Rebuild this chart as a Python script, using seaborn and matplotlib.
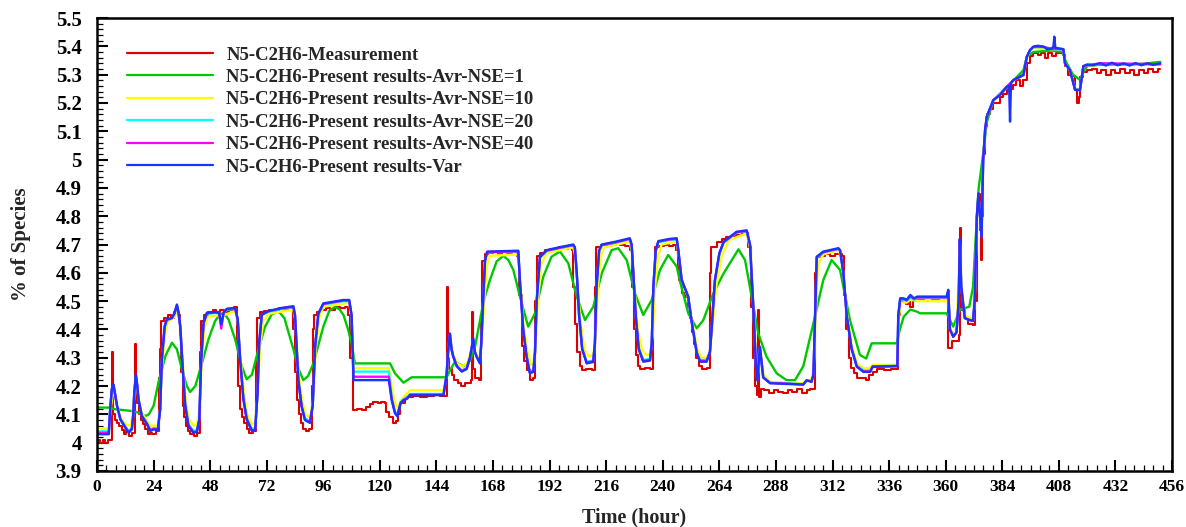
import matplotlib
matplotlib.use("Agg")
import matplotlib.pyplot as plt
import seaborn as sns
import pandas as pd
from matplotlib.ticker import MultipleLocator, FuncFormatter

# ---------------- data (time [h], % of species) ----------------
labels = [
    "N5-C2H6-Measurement",
    "N5-C2H6-Present results-Avr-NSE=1",
    "N5-C2H6-Present results-Avr-NSE=10",
    "N5-C2H6-Present results-Avr-NSE=20",
    "N5-C2H6-Present results-Avr-NSE=40",
    "N5-C2H6-Present results-Var",
]
colors = ["#dc0000", "#00c800", "#ffff00", "#00ffff", "#ff00ff", "#1a33ff"]

measurement = [
    (0, 4.01), (1.2, 4.0), (2.4, 4.01), (3.6, 4.0), (4.8, 4.01), (6.3, 4.02), (6.5, 4.32), (6.8, 4.10),
    (7.5, 4.08), (8.5, 4.07), (9.5, 4.06), (10.5, 4.045), (11.5, 4.03), (12.5, 4.04), (13.5, 4.025),
    (15.0, 4.035), (16.0, 4.04), (16.1, 4.35), (16.4, 4.18), (17.0, 4.14), (17.8, 4.10), (18.5, 4.08),
    (19.5, 4.065), (20.5, 4.05), (21.5, 4.03), (22.5, 4.035), (23.5, 4.03), (25.0, 4.04), (26.1, 4.23),
    (26.6, 4.33), (27.3, 4.43), (28.5, 4.44), (30.0, 4.45), (31.5, 4.44), (32.5, 4.46), (33.5, 4.47),
    (34.3, 4.45), (35.0, 4.38), (35.6, 4.25), (36.3, 4.13), (37.0, 4.09), (37.8, 4.06), (38.7, 4.04),
    (39.5, 4.03), (41.0, 4.025), (42.5, 4.035), (43.8, 4.32), (44.3, 4.43), (45.5, 4.45), (47.0, 4.46),
    (49.0, 4.47), (50.5, 4.46), (52.0, 4.47), (54.0, 4.46), (56.0, 4.47), (58.0, 4.48), (59.3, 4.35),
    (59.8, 4.20), (60.5, 4.12), (61.5, 4.09), (62.5, 4.07), (63.5, 4.05), (64.5, 4.035), (66.0, 4.04),
    (67.4, 4.30), (67.8, 4.44), (69.0, 4.46), (71.0, 4.465), (73.0, 4.47), (75.0, 4.465), (77.0, 4.475),
    (79.0, 4.47), (81.0, 4.48), (82.5, 4.47), (83.3, 4.40), (84.0, 4.25), (84.8, 4.15), (85.5, 4.10),
    (86.5, 4.07), (87.5, 4.05), (88.5, 4.04), (90.0, 4.05), (91.0, 4.20), (91.5, 4.40), (92.0, 4.45),
    (93.5, 4.46), (95.0, 4.47), (97.0, 4.475), (99.0, 4.47), (101.0, 4.48), (103.0, 4.475), (105.0, 4.48),
    (106.5, 4.45), (107.5, 4.30), (108.7, 4.115), (110.5, 4.12), (112.5, 4.115), (114.0, 4.125),
    (115.8, 4.135), (117.2, 4.145), (119.0, 4.14), (120.5, 4.145), (122.1, 4.14), (122.8, 4.11),
    (123.8, 4.09), (125.6, 4.07), (127.0, 4.075), (127.8, 4.10), (128.5, 4.14), (130.7, 4.16),
    (134.0, 4.165), (137.0, 4.16), (140.0, 4.165), (143.0, 4.17), (145.5, 4.165), (148.4, 4.17),
    (148.6, 4.55), (148.9, 4.30), (149.5, 4.26), (150.5, 4.24), (151.5, 4.22), (153.0, 4.21),
    (154.5, 4.20), (156.0, 4.21), (158.7, 4.22), (158.9, 4.46), (159.3, 4.26), (160.5, 4.23),
    (162.0, 4.22), (163.0, 4.45), (163.4, 4.64), (164.5, 4.665), (166.0, 4.67), (168.0, 4.675),
    (170.0, 4.665), (172.0, 4.675), (174.0, 4.67), (176.0, 4.675), (178.0, 4.66), (179.1, 4.52),
    (180.1, 4.34), (181.0, 4.29), (182.2, 4.257), (183.6, 4.22), (185.1, 4.23), (185.8, 4.50),
    (186.5, 4.66), (188.0, 4.67), (190.0, 4.68), (192.0, 4.685), (194.0, 4.68), (196.0, 4.69),
    (198.0, 4.685), (200.0, 4.695), (201.3, 4.68), (202.0, 4.55), (202.7, 4.42), (203.8, 4.32),
    (204.9, 4.27), (205.6, 4.257), (207.5, 4.26), (209.8, 4.255), (211.2, 4.55), (211.8, 4.69),
    (214.0, 4.70), (216.0, 4.695), (218.0, 4.70), (220.0, 4.705), (222.0, 4.70), (224.0, 4.695),
    (226.1, 4.68), (227.0, 4.55), (227.8, 4.40), (228.7, 4.31), (229.6, 4.27), (230.3, 4.262),
    (232.5, 4.265), (234.6, 4.26), (236.0, 4.55), (236.7, 4.69), (238.5, 4.695), (240.5, 4.70),
    (242.5, 4.695), (244.5, 4.70), (245.5, 4.68), (246.3, 4.62), (247.0, 4.575), (248.0, 4.53),
    (249.5, 4.516), (250.8, 4.48), (251.6, 4.44), (252.5, 4.39), (253.3, 4.35), (254.0, 4.30),
    (255.3, 4.27), (256.5, 4.262), (258.6, 4.265), (260.0, 4.60), (260.4, 4.69), (262.8, 4.71),
    (265.0, 4.72), (267.0, 4.725), (269.0, 4.73), (271.0, 4.734), (273.5, 4.74), (276.3, 4.69),
    (277.3, 4.48), (278.3, 4.30), (279.2, 4.20), (280.1, 4.17), (280.5, 4.47), (280.8, 4.16),
    (281.5, 4.19), (283.0, 4.185), (285.0, 4.175), (287.0, 4.185), (289.0, 4.18), (291.0, 4.175),
    (293.0, 4.185), (295.0, 4.18), (297.0, 4.19), (299.0, 4.175), (301.0, 4.185), (302.5, 4.19),
    (304.2, 4.19), (304.6, 4.60), (305.3, 4.655), (307.0, 4.66), (309.0, 4.665), (311.0, 4.66),
    (313.0, 4.665), (315.9, 4.66), (316.8, 4.52), (317.8, 4.40), (319.0, 4.30), (320.0, 4.265),
    (321.0, 4.245), (322.5, 4.228), (324.5, 4.23), (326.0, 4.22), (327.5, 4.24), (329.0, 4.25),
    (331.0, 4.26), (334.0, 4.255), (337.0, 4.26), (339.5, 4.26), (339.8, 4.45), (340.5, 4.50),
    (342.0, 4.505), (343.0, 4.49), (344.0, 4.51), (345.0, 4.48), (346.0, 4.50), (348.0, 4.505),
    (351.0, 4.50), (354.0, 4.505), (357.0, 4.50), (360.4, 4.505), (360.8, 4.333), (362.5, 4.36),
    (363.9, 4.36), (365.5, 4.38), (366.0, 4.76), (366.4, 4.55), (367.0, 4.47), (368.1, 4.44),
    (369.5, 4.42), (371.6, 4.415), (372.5, 4.50), (373.2, 4.82), (373.9, 4.88), (374.4, 4.75),
    (374.9, 4.645), (375.3, 4.80), (375.9, 5.02), (376.7, 5.12), (377.4, 5.16), (378.8, 5.18),
    (380.2, 5.20), (383.0, 5.22), (384.5, 5.23), (386.0, 5.25), (388.7, 5.265), (390.0, 5.28),
    (391.5, 5.26), (393.0, 5.28), (394.4, 5.34), (395.8, 5.365), (397.2, 5.375), (399.0, 5.37),
    (400.5, 5.375), (402.0, 5.36), (403.5, 5.375), (405.0, 5.365), (407.0, 5.375), (409.9, 5.37),
    (410.6, 5.33), (412.0, 5.30), (413.5, 5.295), (414.9, 5.25), (415.6, 5.20), (416.5, 5.22),
    (417.0, 5.29), (418.4, 5.31), (420.0, 5.315), (422.0, 5.32), (424.0, 5.305), (426.0, 5.315),
    (428.0, 5.30), (430.0, 5.315), (432.0, 5.305), (434.0, 5.32), (436.0, 5.305), (438.0, 5.315),
    (440.0, 5.30), (442.0, 5.315), (444.0, 5.305), (446.0, 5.32), (448.0, 5.31), (450.0, 5.32),
    (451.0, 5.32),
]

nse1 = [
    (0, 4.124), (5, 4.124), (7.8, 4.118), (14.8, 4.112), (17.6, 4.106), (20.5, 4.094), (22.0, 4.10),
    (24.0, 4.13), (26.0, 4.21), (29.0, 4.306), (31.8, 4.353), (33.9, 4.33), (36.0, 4.26), (38.1, 4.20),
    (39.5, 4.179), (41.7, 4.20), (44.5, 4.28), (47.3, 4.365), (50.1, 4.43), (52.2, 4.453), (53.7, 4.459),
    (55.8, 4.435), (58.6, 4.365), (61.4, 4.27), (63.5, 4.224), (65.7, 4.24), (68.5, 4.33), (71.3, 4.41),
    (74.1, 4.453), (76.9, 4.465), (79.5, 4.44), (83.3, 4.33), (85.5, 4.26), (87.5, 4.221), (89.5, 4.235),
    (91.8, 4.28), (96.0, 4.41), (98.5, 4.465), (101.0, 4.48), (103.0, 4.47), (104.6, 4.45), (106.5, 4.40),
    (108.0, 4.351), (109.4, 4.28), (124.3, 4.28), (126.4, 4.245), (130.0, 4.212), (133.5, 4.231),
    (148.3, 4.231), (150.0, 4.26), (151.9, 4.286), (155.4, 4.27), (158.3, 4.29), (160.4, 4.34),
    (162.5, 4.433), (164.0, 4.50), (166.7, 4.575), (169.5, 4.64), (172.3, 4.66), (174.5, 4.645),
    (176.6, 4.61), (179.4, 4.516), (182.9, 4.41), (185.8, 4.457), (189.3, 4.586), (192.8, 4.657),
    (196.4, 4.675), (199.9, 4.634), (203.5, 4.516), (207.0, 4.433), (210.5, 4.48), (214.1, 4.598),
    (218.3, 4.68), (221.1, 4.687), (224.7, 4.645), (228.2, 4.527), (231.7, 4.451), (235.3, 4.504),
    (238.8, 4.61), (242.3, 4.663), (245.9, 4.622), (247.3, 4.57), (250.8, 4.457), (254.4, 4.404),
    (257.2, 4.433), (261.4, 4.527), (265.8, 4.598), (269.3, 4.645), (272.1, 4.683), (274.9, 4.645),
    (277.7, 4.516), (280.5, 4.386), (284.0, 4.304), (288.3, 4.245), (292.5, 4.221), (296.1, 4.221),
    (299.6, 4.27), (303.9, 4.422), (308.1, 4.575), (311.6, 4.645), (315.2, 4.61), (319.4, 4.433),
    (323.6, 4.31), (326.3, 4.297), (328.6, 4.351), (339.2, 4.351), (340.5, 4.398), (342.2, 4.445),
    (345.0, 4.47), (347.8, 4.463), (349.1, 4.457), (360.4, 4.457), (363.2, 4.41), (366.0, 4.47),
    (370.0, 4.48), (371.6, 4.55), (372.7, 4.72), (374.0, 4.90), (375.9, 5.02), (377.4, 5.13),
    (380.2, 5.21), (385.9, 5.257), (390.0, 5.29), (393.0, 5.316), (394.4, 5.363), (397.2, 5.38),
    (405.0, 5.385), (409.9, 5.38), (410.6, 5.352), (414.0, 5.30), (417.0, 5.281), (418.4, 5.31),
    (420.0, 5.33), (425.5, 5.335), (440.0, 5.335), (451.0, 5.345),
]

nse10 = [
    (0, 4.05), (5.0, 4.05), (5.8, 4.12), (7.0, 4.19), (8.5, 4.13), (10.0, 4.09), (12.0, 4.065), (14.5, 4.06),
    (15.8, 4.16), (16.5, 4.22), (17.6, 4.16), (19.0, 4.105), (22.6, 4.06), (25.8, 4.06), (26.8, 4.12),
    (27.8, 4.29), (29.0, 4.39), (30.0, 4.425), (32.9, 4.445), (33.9, 4.47), (35.0, 4.43), (36.3, 4.30),
    (37.4, 4.17), (38.8, 4.085), (40.9, 4.06), (42.4, 4.065), (43.4, 4.11), (44.5, 4.29), (45.5, 4.40),
    (47.0, 4.445), (51.8, 4.45), (52.7, 4.42), (53.7, 4.45), (58.6, 4.465), (59.7, 4.43), (60.9, 4.30),
    (62.3, 4.18), (63.7, 4.10), (65.7, 4.065), (67.1, 4.07), (68.3, 4.18), (69.2, 4.34), (70.5, 4.43),
    (72.7, 4.455), (83.3, 4.47), (84.2, 4.43), (85.6, 4.24), (87.0, 4.15), (88.5, 4.10), (90.3, 4.09),
    (91.7, 4.15), (92.8, 4.33), (94.3, 4.44), (96.0, 4.48), (107.0, 4.495), (108.0, 4.44), (108.8, 4.263),
    (123.8, 4.263), (125.0, 4.20), (126.4, 4.14), (127.6, 4.12), (129.0, 4.15), (131.0, 4.17),
    (132.8, 4.185), (147.0, 4.185), (148.3, 4.24), (149.7, 4.37), (151.1, 4.31), (153.0, 4.28),
    (155.0, 4.27), (157.0, 4.28), (159.6, 4.35), (161.0, 4.31), (162.4, 4.30), (163.2, 4.36),
    (164.3, 4.50), (165.3, 4.62), (166.5, 4.66), (178.7, 4.665), (179.6, 4.56), (181.0, 4.41),
    (182.5, 4.33), (184.0, 4.275), (185.1, 4.28), (186.0, 4.34), (187.0, 4.50), (188.5, 4.63),
    (190.7, 4.67), (202.0, 4.69), (202.9, 4.66), (203.9, 4.55), (205.2, 4.42), (206.8, 4.33),
    (208.5, 4.305), (210.5, 4.31), (211.5, 4.37), (212.5, 4.55), (213.8, 4.66), (215.0, 4.69),
    (226.0, 4.71), (227.2, 4.66), (228.2, 4.52), (229.5, 4.40), (231.0, 4.33), (233.0, 4.31),
    (234.6, 4.315), (235.7, 4.38), (236.7, 4.55), (238.0, 4.66), (239.5, 4.70), (245.9, 4.71),
    (246.8, 4.66), (248.2, 4.57), (250.8, 4.51), (252.4, 4.43), (254.6, 4.33), (256.5, 4.30),
    (258.6, 4.30), (260.2, 4.33), (261.2, 4.42), (262.8, 4.56), (265.0, 4.66), (268.0, 4.715),
    (275.6, 4.74), (277.2, 4.68), (278.6, 4.47), (279.7, 4.29), (280.3, 4.235), (281.2, 4.33),
    (282.8, 4.24), (285.5, 4.215), (299.6, 4.21), (303.1, 4.225), (304.0, 4.26), (304.9, 4.45),
    (305.8, 4.63), (308.1, 4.665), (314.5, 4.68), (315.4, 4.66), (316.8, 4.58), (318.2, 4.45),
    (320.3, 4.34), (322.5, 4.28), (325.1, 4.262), (328.0, 4.265), (329.0, 4.275), (339.5, 4.275),
    (340.1, 4.44), (341.0, 4.495), (343.5, 4.495), (345.0, 4.505), (348.0, 4.50), (360.4, 4.50),
    (361.1, 4.53), (361.8, 4.41), (363.2, 4.38), (364.6, 4.39), (366.0, 4.70), (366.8, 4.55),
    (368.1, 4.45), (371.6, 4.435), (372.3, 4.50), (373.2, 4.78), (373.9, 4.87), (375.2, 4.74),
    (375.9, 4.99), (376.7, 5.10), (377.4, 5.15), (380.2, 5.21), (385.9, 5.255), (388.7, 5.28),
    (393.0, 5.298), (394.4, 5.36), (395.8, 5.385), (397.2, 5.395), (405.0, 5.39), (409.9, 5.388),
    (410.6, 5.34), (412.7, 5.315), (414.9, 5.25), (417.0, 5.25), (418.4, 5.33), (425.5, 5.338),
    (451.0, 5.335),
]

nse20 = [
    (0, 4.04), (5.0, 4.04), (5.6, 4.12), (6.3, 4.19), (7.0, 4.20), (7.7, 4.17), (8.5, 4.13), (9.9, 4.085),
    (12.0, 4.058), (13.4, 4.042), (14.8, 4.052), (15.4, 4.10), (15.8, 4.176), (16.5, 4.236), (17.1, 4.20),
    (17.6, 4.155), (19.0, 4.097), (21.2, 4.07), (22.6, 4.047), (24.0, 4.052), (25.8, 4.05), (26.8, 4.118),
    (27.5, 4.29), (28.7, 4.405), (29.6, 4.432), (31.8, 4.44), (32.9, 4.455), (33.9, 4.484), (34.6, 4.458),
    (35.3, 4.412), (36.3, 4.275), (37.4, 4.14), (38.8, 4.065), (40.9, 4.042), (42.4, 4.045), (43.4, 4.085),
    (44.2, 4.29), (45.2, 4.42), (46.6, 4.455), (50.1, 4.458), (51.8, 4.456), (52.7, 4.415), (53.7, 4.456),
    (55.1, 4.47), (58.6, 4.473), (59.7, 4.435), (60.7, 4.30), (62.1, 4.16), (63.5, 4.088), (65.7, 4.048),
    (67.1, 4.052), (68.1, 4.176), (68.8, 4.35), (69.9, 4.45), (72.7, 4.462), (78.4, 4.473), (83.3, 4.478),
    (84.0, 4.447), (85.4, 4.225), (86.8, 4.132), (88.2, 4.086), (90.3, 4.076), (91.5, 4.13), (92.5, 4.335),
    (93.9, 4.453), (96.0, 4.488), (104.5, 4.50), (107.0, 4.50), (108.0, 4.447), (108.8, 4.251),
    (123.8, 4.251), (125.0, 4.16), (126.4, 4.11), (127.4, 4.10), (128.8, 4.143), (130.0, 4.153),
    (131.5, 4.16), (132.8, 4.172), (147.0, 4.172), (148.3, 4.24), (149.0, 4.33), (149.7, 4.382),
    (150.4, 4.33), (151.1, 4.306), (152.6, 4.273), (154.7, 4.255), (156.8, 4.264), (158.2, 4.30),
    (159.6, 4.365), (160.3, 4.32), (161.0, 4.306), (162.4, 4.284), (163.0, 4.35), (163.8, 4.50),
    (164.6, 4.64), (165.5, 4.672), (178.7, 4.675), (179.4, 4.57), (180.8, 4.40), (182.2, 4.31),
    (183.6, 4.252), (185.1, 4.256), (185.8, 4.32), (186.5, 4.50), (187.9, 4.652), (190.7, 4.677),
    (196.0, 4.687), (202.0, 4.697), (202.7, 4.688), (203.5, 4.60), (204.5, 4.45), (205.8, 4.335),
    (207.7, 4.286), (210.5, 4.29), (211.2, 4.35), (211.9, 4.55), (213.0, 4.675), (214.1, 4.697),
    (220.0, 4.707), (226.0, 4.718), (226.8, 4.697), (227.5, 4.60), (228.5, 4.45), (229.8, 4.335),
    (231.7, 4.292), (234.6, 4.296), (235.3, 4.35), (236.0, 4.55), (237.0, 4.675), (238.1, 4.708),
    (243.0, 4.716), (245.9, 4.718), (246.6, 4.678), (248.0, 4.575), (250.8, 4.514), (252.2, 4.43),
    (254.4, 4.32), (255.8, 4.292), (258.6, 4.292), (260.0, 4.32), (260.7, 4.40), (262.1, 4.57),
    (264.0, 4.665), (265.8, 4.706), (271.3, 4.742), (275.6, 4.747), (277.0, 4.70), (278.4, 4.48),
    (279.5, 4.275), (280.1, 4.225), (281.2, 4.336), (282.6, 4.232), (285.5, 4.212), (299.6, 4.207),
    (301.0, 4.22), (303.1, 4.217), (303.9, 4.24), (304.6, 4.45), (305.3, 4.652), (308.1, 4.672),
    (314.5, 4.684), (315.2, 4.678), (316.6, 4.60), (318.0, 4.45), (320.1, 4.335), (322.3, 4.272),
    (325.1, 4.255), (328.0, 4.255), (329.0, 4.27), (339.5, 4.272), (339.9, 4.45), (340.7, 4.505),
    (342.0, 4.505), (343.5, 4.50), (345.0, 4.515), (346.5, 4.505), (348.0, 4.51), (360.4, 4.51),
    (361.1, 4.535), (361.8, 4.40), (363.2, 4.376), (364.6, 4.39), (365.5, 4.50), (366.0, 4.71),
    (366.6, 4.55), (368.1, 4.44), (369.5, 4.435), (371.6, 4.43), (372.3, 4.50), (373.2, 4.79),
    (373.9, 4.875), (374.6, 4.80), (375.2, 4.73), (375.9, 4.995), (376.7, 5.10), (377.4, 5.15),
    (378.8, 5.18), (380.2, 5.21), (383.0, 5.228), (385.9, 5.256), (388.7, 5.28), (393.0, 5.298),
    (394.4, 5.362), (395.8, 5.386), (397.2, 5.397), (401.5, 5.397), (405.0, 5.39), (409.9, 5.389),
    (410.6, 5.34), (412.7, 5.316), (414.9, 5.247), (417.0, 5.247), (418.4, 5.33), (425.5, 5.339),
    (451.0, 5.336),
]

nse40 = [
    (0, 4.035), (5.0, 4.035), (5.6, 4.12), (6.3, 4.19), (7.0, 4.204), (7.7, 4.17), (8.5, 4.13),
    (9.9, 4.083), (12.0, 4.055), (13.4, 4.037), (14.8, 4.049), (15.4, 4.10), (15.8, 4.176),
    (16.5, 4.239), (17.1, 4.20), (17.6, 4.154), (19.0, 4.095), (21.2, 4.067), (22.6, 4.043),
    (24.0, 4.049), (25.8, 4.047), (26.8, 4.118), (27.5, 4.292), (28.7, 4.41), (29.6, 4.434),
    (31.8, 4.44), (32.9, 4.457), (33.9, 4.486), (34.6, 4.458), (35.3, 4.412), (36.3, 4.272),
    (37.4, 4.134), (38.8, 4.061), (40.9, 4.037), (42.4, 4.04), (43.4, 4.083), (44.2, 4.292),
    (45.2, 4.422), (46.6, 4.457), (50.1, 4.46), (51.8, 4.458), (52.7, 4.403), (53.7, 4.458),
    (55.1, 4.472), (58.6, 4.475), (59.7, 4.435), (60.7, 4.296), (62.1, 4.155), (63.5, 4.084),
    (65.7, 4.043), (67.1, 4.047), (68.1, 4.176), (68.8, 4.352), (69.9, 4.452), (72.7, 4.464),
    (78.4, 4.475), (83.3, 4.48), (84.0, 4.449), (85.4, 4.222), (86.8, 4.129), (88.2, 4.082),
    (90.3, 4.072), (91.5, 4.13), (92.5, 4.337), (93.9, 4.455), (96.0, 4.49), (104.5, 4.502),
    (107.0, 4.502), (108.0, 4.449), (108.8, 4.233), (123.8, 4.233), (125.0, 4.155), (126.4, 4.106),
    (127.4, 4.095), (128.8, 4.141), (130.0, 4.151), (131.5, 4.157), (132.8, 4.17), (147.0, 4.17),
    (148.3, 4.24), (149.0, 4.33), (149.7, 4.384), (150.4, 4.33), (151.1, 4.305), (152.6, 4.271),
    (154.7, 4.253), (156.8, 4.262), (158.2, 4.30), (159.6, 4.366), (160.3, 4.32), (161.0, 4.305),
    (162.4, 4.282), (163.0, 4.35), (163.8, 4.502), (164.6, 4.642), (165.5, 4.673), (178.7, 4.676),
    (179.4, 4.57), (180.8, 4.399), (182.2, 4.307), (183.6, 4.248), (185.1, 4.253), (185.8, 4.32),
    (186.5, 4.50), (187.9, 4.655), (190.7, 4.678), (196.0, 4.688), (202.0, 4.698), (202.7, 4.689),
    (203.5, 4.60), (204.5, 4.45), (205.8, 4.332), (207.7, 4.283), (210.5, 4.288), (211.2, 4.35),
    (211.9, 4.55), (213.0, 4.678), (214.1, 4.698), (220.0, 4.708), (226.0, 4.72), (226.8, 4.698),
    (227.5, 4.60), (228.5, 4.45), (229.8, 4.332), (231.7, 4.289), (234.6, 4.293), (235.3, 4.35),
    (236.0, 4.55), (237.0, 4.678), (238.1, 4.71), (243.0, 4.718), (245.9, 4.72), (246.6, 4.679),
    (248.0, 4.575), (250.8, 4.515), (252.2, 4.43), (254.4, 4.318), (255.8, 4.289), (258.6, 4.289),
    (260.0, 4.32), (260.7, 4.40), (262.1, 4.572), (264.0, 4.668), (265.8, 4.708), (271.3, 4.743),
    (275.6, 4.748), (277.0, 4.70), (278.4, 4.48), (279.5, 4.272), (280.1, 4.222), (281.2, 4.337),
    (282.6, 4.231), (285.5, 4.211), (299.6, 4.206), (301.0, 4.22), (303.1, 4.216), (303.9, 4.24),
    (304.6, 4.45), (305.3, 4.655), (308.1, 4.673), (314.5, 4.685), (315.2, 4.679), (316.6, 4.60),
    (318.0, 4.45), (320.1, 4.332), (322.3, 4.27), (325.1, 4.252), (328.0, 4.252), (329.0, 4.269),
    (339.5, 4.271), (339.9, 4.45), (340.7, 4.508), (342.0, 4.508), (343.5, 4.503), (345.0, 4.518),
    (346.5, 4.508), (348.0, 4.513), (360.4, 4.513), (361.1, 4.537), (361.8, 4.40), (363.2, 4.375),
    (364.6, 4.39), (365.5, 4.50), (366.0, 4.715), (366.6, 4.55), (368.1, 4.44), (369.5, 4.435),
    (371.6, 4.43), (372.3, 4.50), (373.2, 4.795), (373.9, 4.878), (374.6, 4.80), (375.2, 4.728),
    (375.9, 4.997), (376.7, 5.102), (377.4, 5.15), (378.8, 5.18), (380.2, 5.21), (383.0, 5.228),
    (385.9, 5.257), (388.7, 5.28), (393.0, 5.299), (394.4, 5.363), (395.8, 5.387), (397.2, 5.398),
    (401.5, 5.398), (405.0, 5.391), (409.9, 5.39), (410.6, 5.34), (412.7, 5.316), (414.9, 5.246),
    (417.0, 5.246), (418.4, 5.33), (425.5, 5.34), (451.0, 5.337),
]

var = [
    (0, 4.03), (5.0, 4.03), (5.6, 4.12), (6.3, 4.19), (7.0, 4.206), (7.7, 4.17), (8.5, 4.13),
    (9.9, 4.082), (12.0, 4.053), (13.4, 4.035), (14.8, 4.047), (15.4, 4.10), (15.8, 4.176),
    (16.5, 4.241), (17.1, 4.20), (17.6, 4.153), (19.0, 4.094), (21.2, 4.065), (22.6, 4.041),
    (24.0, 4.047), (25.8, 4.045), (26.8, 4.118), (27.5, 4.294), (28.7, 4.412), (29.6, 4.435),
    (31.8, 4.441), (32.9, 4.459), (33.9, 4.488), (34.6, 4.459), (35.3, 4.412), (36.3, 4.27),
    (37.4, 4.13), (38.8, 4.059), (40.9, 4.035), (42.4, 4.038), (43.4, 4.082), (44.2, 4.294),
    (45.2, 4.424), (46.6, 4.459), (50.1, 4.461), (51.8, 4.459), (52.7, 4.418), (53.7, 4.459),
    (55.1, 4.473), (58.6, 4.476), (59.7, 4.435), (60.7, 4.294), (62.1, 4.153), (63.5, 4.082),
    (65.7, 4.041), (67.1, 4.045), (68.1, 4.176), (68.8, 4.353), (69.9, 4.453), (72.7, 4.465),
    (78.4, 4.476), (83.3, 4.482), (84.0, 4.45), (85.4, 4.221), (86.8, 4.127), (88.2, 4.08),
    (90.3, 4.07), (91.5, 4.13), (92.5, 4.339), (93.9, 4.457), (96.0, 4.492), (104.5, 4.504),
    (107.0, 4.504), (108.0, 4.45), (108.8, 4.221), (123.8, 4.221), (125.0, 4.15), (126.4, 4.104),
    (127.4, 4.093), (128.8, 4.14), (130.0, 4.15), (131.5, 4.155), (132.8, 4.168), (147.0, 4.168),
    (148.3, 4.24), (149.0, 4.33), (149.7, 4.386), (150.4, 4.33), (151.1, 4.304), (152.6, 4.27),
    (154.7, 4.251), (156.8, 4.26), (158.2, 4.30), (159.6, 4.368), (160.3, 4.32), (161.0, 4.304),
    (162.4, 4.28), (163.0, 4.35), (163.8, 4.504), (164.6, 4.645), (165.5, 4.675), (178.7, 4.678),
    (179.4, 4.57), (180.8, 4.398), (182.2, 4.304), (183.6, 4.245), (185.1, 4.25), (185.8, 4.32),
    (186.5, 4.50), (187.9, 4.657), (190.7, 4.68), (196.0, 4.69), (202.0, 4.70), (202.7, 4.69),
    (203.5, 4.60), (204.5, 4.45), (205.8, 4.33), (207.7, 4.28), (210.5, 4.285), (211.2, 4.35),
    (211.9, 4.55), (213.0, 4.68), (214.1, 4.70), (220.0, 4.71), (226.0, 4.722), (226.8, 4.70),
    (227.5, 4.60), (228.5, 4.45), (229.8, 4.33), (231.7, 4.286), (234.6, 4.29), (235.3, 4.35),
    (236.0, 4.55), (237.0, 4.68), (238.1, 4.712), (243.0, 4.72), (245.9, 4.722), (246.6, 4.68),
    (248.0, 4.575), (250.8, 4.516), (252.2, 4.43), (254.4, 4.316), (255.8, 4.286), (258.6, 4.286),
    (260.0, 4.32), (260.7, 4.40), (262.1, 4.575), (264.0, 4.67), (265.8, 4.71), (271.3, 4.745),
    (275.6, 4.75), (277.0, 4.70), (278.4, 4.48), (279.5, 4.27), (280.1, 4.22), (281.2, 4.339),
    (282.6, 4.23), (285.5, 4.21), (299.6, 4.205), (301.0, 4.22), (303.1, 4.215), (303.9, 4.24),
    (304.6, 4.45), (305.3, 4.657), (308.1, 4.675), (314.5, 4.687), (315.2, 4.68), (316.6, 4.60),
    (318.0, 4.45), (320.1, 4.33), (322.3, 4.268), (325.1, 4.25), (328.0, 4.25), (329.0, 4.268),
    (339.5, 4.27), (339.9, 4.45), (340.7, 4.51), (342.0, 4.51), (343.5, 4.505), (345.0, 4.522),
    (346.5, 4.51), (348.0, 4.516), (360.4, 4.516), (361.1, 4.54), (361.8, 4.40), (363.2, 4.374),
    (364.6, 4.39), (365.5, 4.50), (366.0, 4.72), (366.6, 4.55), (368.1, 4.44), (369.5, 4.435),
    (371.6, 4.43), (372.3, 4.50), (373.2, 4.80), (373.9, 4.881), (374.6, 4.80), (375.2, 4.727),
    (375.9, 4.998), (376.7, 5.104), (377.4, 5.151), (378.8, 5.181), (380.2, 5.21), (383.0, 5.228),
    (385.9, 5.257), (386.9, 5.26), (387.3, 5.134), (387.7, 5.27), (388.7, 5.281), (393.0, 5.299),
    (394.4, 5.363), (395.8, 5.387), (397.2, 5.399), (399.0, 5.402), (401.5, 5.399), (403.0, 5.39),
    (405.0, 5.392), (405.7, 5.40), (406.1, 5.434), (406.5, 5.395), (409.9, 5.39), (410.6, 5.34),
    (412.7, 5.316), (414.9, 5.246), (417.0, 5.246), (418.4, 5.33), (420.0, 5.336), (422.6, 5.334),
    (425.5, 5.34), (428.0, 5.332), (430.5, 5.342), (433.0, 5.333), (435.5, 5.34), (438.0, 5.332),
    (440.5, 5.341), (443.0, 5.333), (445.5, 5.34), (448.0, 5.334), (451.0, 5.34),
]

x_ticks = list(range(0, 457, 24))
y_ticks = [3.9, 4.0, 4.1, 4.2, 4.3, 4.4, 4.5, 4.6, 4.7, 4.8, 4.9, 5.0, 5.1, 5.2, 5.3, 5.4, 5.5]

# ---------------- style ----------------
sns.set_style("ticks")
plt.rcParams["font.family"] = ["Liberation Serif", "DejaVu Serif"]
plt.rcParams["font.weight"] = "bold"

fig = plt.figure(figsize=(11.86, 5.27), dpi=100)
ax = fig.add_axes([97 / 1186, 1 - 471 / 527, 1075 / 1186, 453 / 527])

series = [measurement, nse1, nse10, nse20, nse40, var]
for pts, col, lab in zip(series, colors, labels):
    df = pd.DataFrame(pts, columns=["time", "value"])
    kw = {}
    lw = 1.7
    if lab.endswith("Measurement"):
        kw["drawstyle"] = "steps-post"
        lw = 1.5
    sns.lineplot(data=df, x="time", y="value", ax=ax, color=col, lw=lw,
                 label=lab, estimator=None, sort=False, **kw)

ax.set_xlim(0, 456)
ax.set_ylim(3.9, 5.5)
ax.set_xticks(x_ticks)
ax.set_yticks(y_ticks)
ax.xaxis.set_minor_locator(MultipleLocator(4))
ax.yaxis.set_minor_locator(MultipleLocator(0.02))
ax.yaxis.set_major_formatter(FuncFormatter(lambda v, p: f"{v:g}"))
ax.tick_params(which="both", direction="in", top=False, right=False, colors="black")
ax.tick_params(which="major", length=8, width=1.5)
ax.tick_params(which="minor", length=4, width=0.9)
ax.tick_params(axis="y", which="major", pad=11)
ax.tick_params(axis="x", which="major", pad=6)
for lbl in ax.get_yticklabels():
    lbl.set_fontsize(15)
    lbl.set_fontweight("bold")
for lbl in ax.get_xticklabels():
    lbl.set_fontsize(12.5)
    lbl.set_fontweight("bold")
for sp in ax.spines.values():
    sp.set_visible(True)
    sp.set_linewidth(1.8)
    sp.set_color("black")

ax.set_xlabel("Time (hour)", fontsize=14.5, fontweight="bold")
ax.set_ylabel("% of Species", fontsize=15, fontweight="bold")
ax.xaxis.set_label_coords(0.5, -0.08)
ax.yaxis.set_label_coords(-0.061, 0.5)

leg = ax.legend(loc="upper left", bbox_to_anchor=(0.028, 0.937), frameon=False,
                borderpad=0, borderaxespad=0, handlelength=4.6, handletextpad=0.7,
                labelspacing=0.28, prop={"family": "Liberation Serif", "weight": "bold", "size": 13.5})
for h in leg.get_lines():
    h.set_linewidth(1.6)
    h.set_drawstyle("default")

fig.savefig("out.png", dpi=100)
